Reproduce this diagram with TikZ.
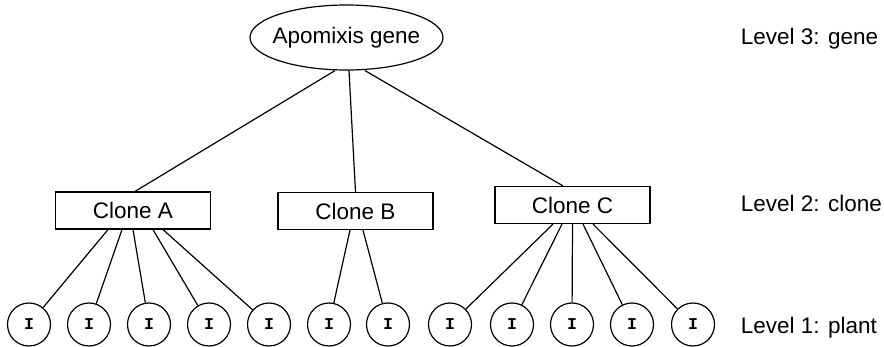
\documentclass[tikz,border=0pt]{standalone}
\usepackage{fontspec}
\setmainfont{Liberation Sans}
\setmonofont{Liberation Mono}
\usetikzlibrary{shapes.geometric}
\begin{document}
\begin{tikzpicture}[x=1pt, y=-1pt, line width=1.2pt,
  every node/.style={font=\fontsize{22.5}{25}\selectfont},
  clonebox/.style={draw, minimum width=155pt, minimum height=37pt, inner sep=0pt},
  plant/.style={draw, circle, minimum size=43pt, inner sep=0pt, font=\ttfamily\bfseries\fontsize{16.5}{18}\selectfont}]
\useasboundingbox (0,0) rectangle (884,347);
% level 3
\node[draw, ellipse, minimum width=193pt, minimum height=65pt, inner xsep=-20pt, inner ysep=0pt] (gene) at (346.5,37.5) {Apomixis gene};
% level 2
\node[clonebox] (cA) at (133,210.5) {Clone A};
\node[clonebox] (cB) at (355.5,211) {Clone B};
\node[clonebox] (cC) at (572.5,205) {Clone C};
% level 1
\foreach \x [count=\i] in {29,89,149,209,269,329,388,450,512,572,632,693}
  \node[plant] (p\i) at (\x,324.5) {I};
% labels
\node[anchor=west] (l3) at (737,39) {Level 3: gene};
\node[anchor=west] (l2) at (737,203) {Level 2: clone};
\node[anchor=west] (l1) at (737,328) {Level 1: plant};
% edges
\draw ([xshift=-11.5pt]gene.south) -- ([xshift=2pt]cA.north);
\draw ([xshift=2.5pt]gene.south) -- (cB.north);
\draw ([xshift=18.5pt]gene.south) -- ([xshift=-9.5pt]cC.north);
\foreach \d/\i in {-25/1,-11/2,0/3,20/4,30/5}
  \draw ([xshift=\d pt]cA.south) -- (p\i);
\foreach \d/\i in {-5.5/6,7.5/7}
  \draw ([xshift=\d pt]cB.south) -- (p\i);
\foreach \d/\i in {-19.5/8,-10.5/9,0/10,10.5/11,20.5/12}
  \draw ([xshift=\d pt]cC.south) -- (p\i);
\end{tikzpicture}
\end{document}
